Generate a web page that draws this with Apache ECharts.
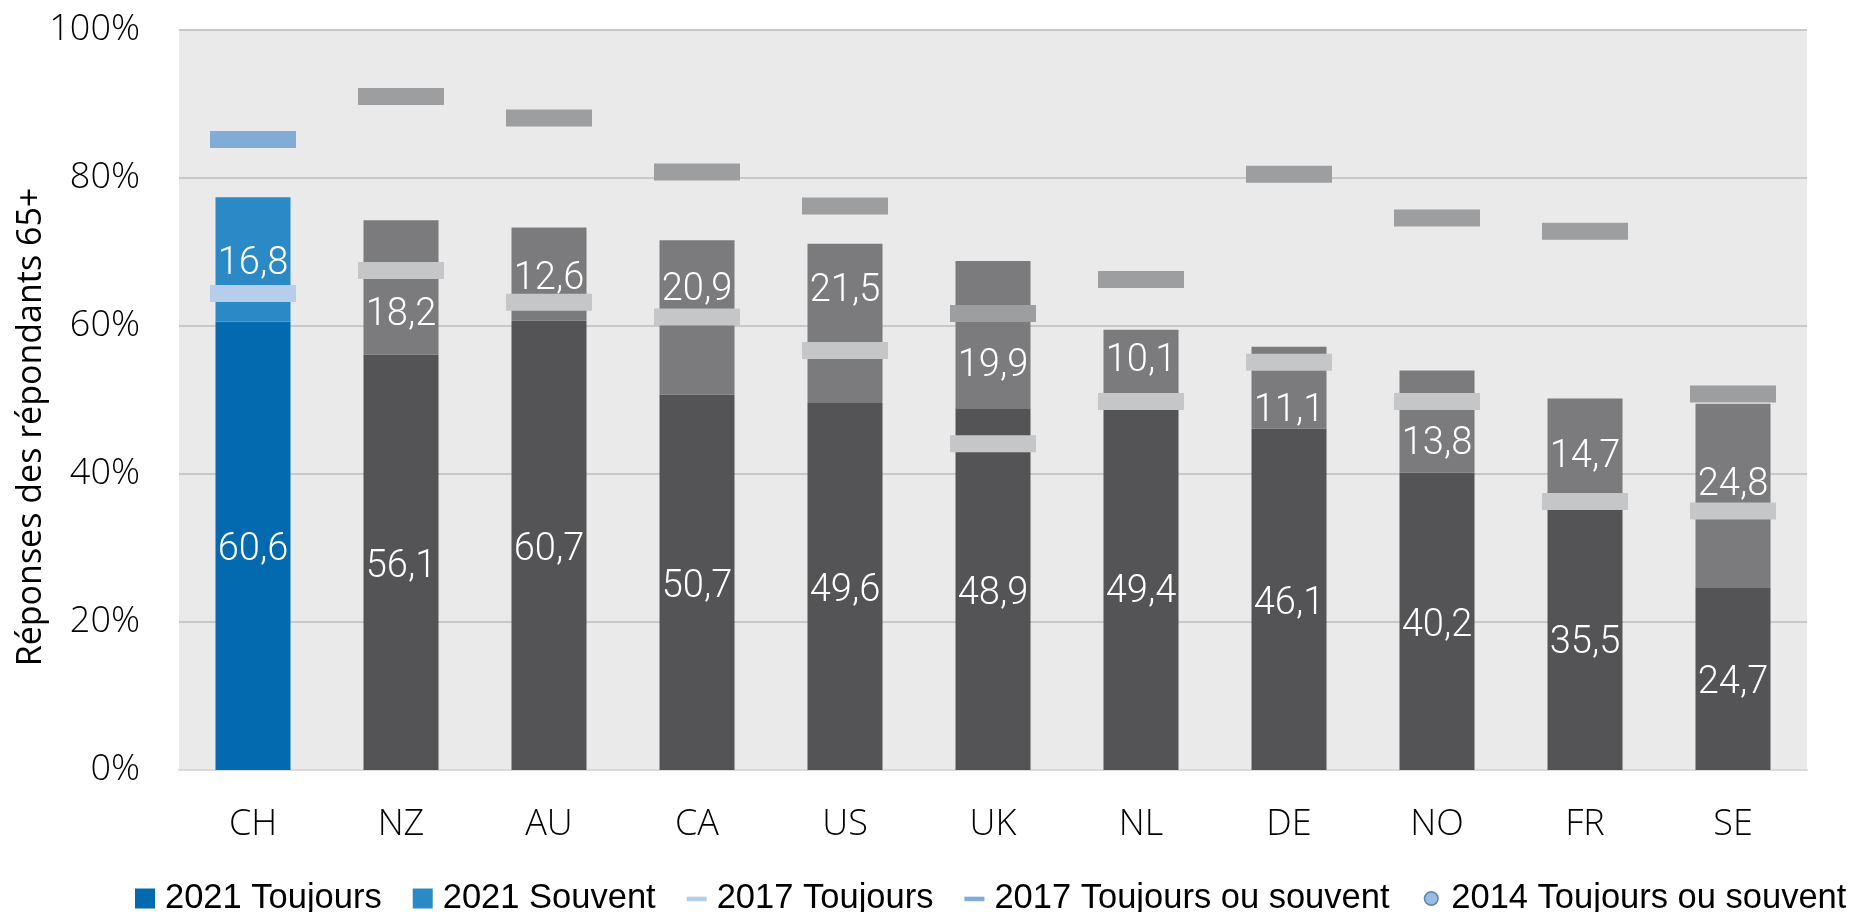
<!DOCTYPE html>
<html>
<head>
<meta charset="utf-8">
<script src="https://cdn.jsdelivr.net/npm/echarts@6/dist/echarts.min.js"></script>
<style>
html,body{margin:0;padding:0;background:#fff;}
#chart{width:1854px;height:912px;}
</style>
</head>
<body>
<div id="chart"></div>
<script>
const categories = ['CH','NZ','AU','CA','US','UK','NL','DE','NO','FR','SE'];
const toujours2021 = [60.6,56.1,60.7,50.7,49.6,48.9,49.4,46.1,40.2,35.5,24.7];
const souvent2021 = [16.8,18.2,12.6,20.9,21.5,19.9,10.1,11.1,13.8,14.7,24.8];
const toujours2017 = [64.4,67.5,63.2,61.2,56.7,44.1,49.8,55.1,49.8,36.3,35.0];
const toujoursOuSouvent2017 = [85.2,91.0,88.1,80.8,76.2,61.7,66.3,80.5,74.6,72.8,50.8];
const toujoursOuSouvent2014 = [];
const yTicks = [0,20,40,60,80,100];
const seriesNames = ['2021 Toujours','2021 Souvent','2017 Toujours','2017 Toujours ou souvent','2014 Toujours ou souvent'];

// layout tweak: vertical shift (px) of the "Souvent" value labels, as placed in the original
const souventLabelShift = [0,23,0,-32,-37,27,-11,19,18,0,-15];
const labelBaseShift = 5;

const COL = {
  blueDark:'#046AAF', blueLight:'#2B8AC6',
  grayDark:'#545456', grayMid:'#7B7B7D',
  t17CH:'#B7CEEA', t17:'#C5C6C8',
  ts17CH:'#82ABD7', ts17:'#9D9EA0'
};
const fmt = v => v.toFixed(1).replace('.', ',');
const labelFont = {color:'#fff', fontSize:38, fontFamily:'Roboto', fontWeight:300};

const chart = echarts.init(document.getElementById('chart'), null, {renderer:'canvas'});
chart.setOption({
  animation:false,
  backgroundColor:'#ffffff',
  grid:{left:179, right:47, top:30, bottom:142, show:true, backgroundColor:'#EAEAEA', borderWidth:0, containLabel:false, outerBoundsMode:'none'},
  legend:{
    left:130, top:876, width:1724, itemWidth:20, itemHeight:20, itemGap:31,
    textStyle:{fontSize:34.5, fontFamily:'Liberation Sans', color:'#000', padding:[0,0,0,5]},
    data:[
      {name:seriesNames[0], icon:'rect', itemStyle:{color:COL.blueDark}},
      {name:seriesNames[1], icon:'rect', itemStyle:{color:COL.blueLight}},
      {name:seriesNames[2], icon:'path://M0,0L0,0M22,22L22,22M0,9h22v5h-22z', itemStyle:{color:COL.t17CH}},
      {name:seriesNames[3], icon:'path://M0,0L0,0M22,22L22,22M0,9h22v5h-22z', itemStyle:{color:COL.ts17CH}},
      {name:seriesNames[4], icon:'path://M0,0L0,0M22,22L22,22M11,3.5a7.5,7.5 0 1,0 0.001,0z', itemStyle:{color:COL.ts17CH, borderColor:'#3D6E9E', borderWidth:1.5}}
    ]
  },
  xAxis:{
    type:'category', data:categories,
    axisLine:{show:true, lineStyle:{color:'#D9D9D9', width:2}},
    axisTick:{show:false},
    axisLabel:{fontSize:36, fontFamily:'Open Sans', fontWeight:300, color:'#000', margin:37}
  },
  yAxis:{
    type:'value', min:yTicks[0], max:yTicks[yTicks.length-1], interval:yTicks[1]-yTicks[0],
    name:'Réponses des répondants 65+', nameLocation:'middle', nameGap:131, nameMoveOverlap:false,
    nameTextStyle:{fontSize:34, fontFamily:'Open Sans', color:'#000', padding:[0,54,0,0]},
    axisLine:{show:false}, axisTick:{show:false},
    axisLabel:{formatter:'{value}%', fontSize:36, fontFamily:'Open Sans', fontWeight:300, color:'#000', margin:39},
    splitLine:{lineStyle:{color:'#C8C8C8', width:2}}
  },
  series:[
    {
      name:seriesNames[0], type:'bar', stack:'y2021', barWidth:75,
      itemStyle:{color:p => p.dataIndex===0 ? COL.blueDark : COL.grayDark},
      label:Object.assign({show:true, position:'inside', offset:[0,labelBaseShift], formatter:p => fmt(p.value)}, labelFont),
      data:toujours2021, z:2
    },
    {
      name:seriesNames[1], type:'bar', stack:'y2021', barWidth:75,
      itemStyle:{color:p => p.dataIndex===0 ? COL.blueLight : COL.grayMid},
      label:Object.assign({show:true, position:'inside', formatter:p => fmt(p.value)}, labelFont),
      data:souvent2021.map((v,i) => ({value:v, label:{offset:[0, labelBaseShift + souventLabelShift[i]]}})), z:2
    },
    {
      name:seriesNames[2], type:'scatter', symbol:'rect', symbolSize:[86,17],
      itemStyle:{color:p => p.dataIndex===0 ? COL.t17CH : COL.t17, opacity:1},
      data:toujours2017, z:4
    },
    {
      name:seriesNames[3], type:'scatter', symbol:'rect', symbolSize:[86,17],
      itemStyle:{color:p => p.dataIndex===0 ? COL.ts17CH : COL.ts17, opacity:1},
      data:toujoursOuSouvent2017, z:4
    },
    {
      name:seriesNames[4], type:'scatter', symbol:'circle', symbolSize:14,
      itemStyle:{color:COL.ts17CH, borderColor:'#3D6E9E', borderWidth:1.5},
      data:toujoursOuSouvent2014, z:4
    }
  ]
});
</script>
</body>
</html>
